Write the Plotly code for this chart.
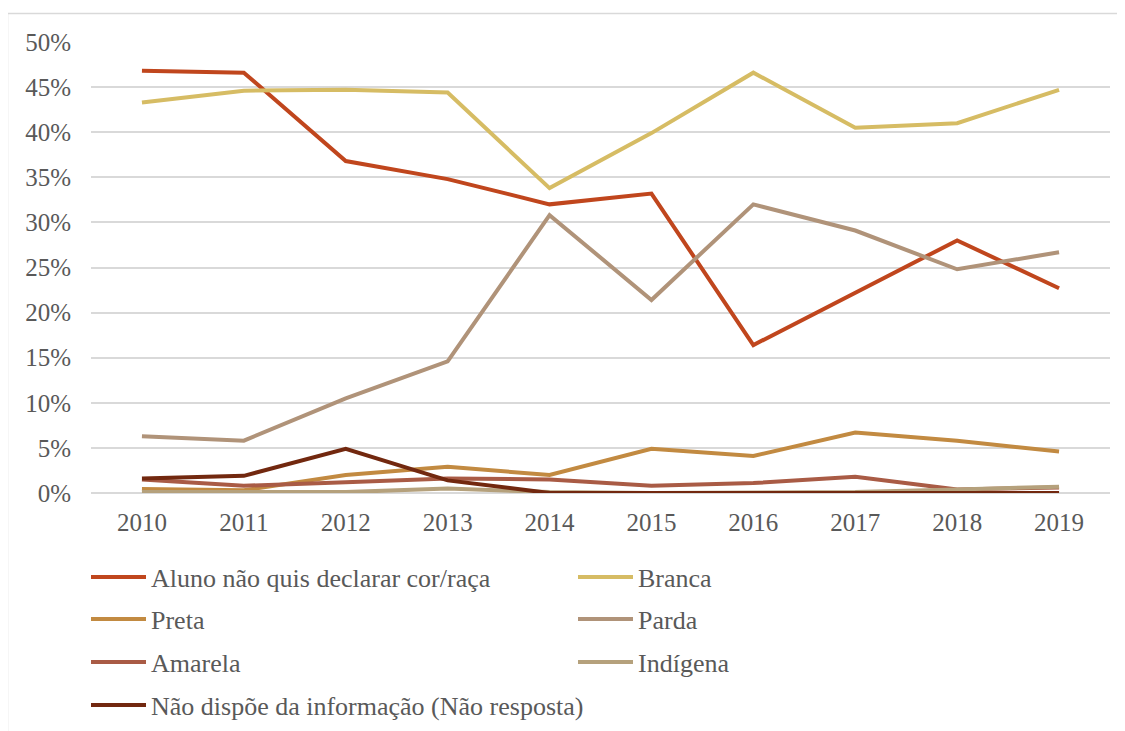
import plotly.graph_objects as go

## anos e percentuais
anos = ["2010", "2011", "2012", "2013", "2014", "2015", "2016", "2017", "2018", "2019"]

aluno_nao_quis = [46.8, 46.6, 36.8, 34.8, 32.0, 33.2, 16.4, 22.2, 28.0, 22.7]
branca = [43.3, 44.6, 44.7, 44.4, 33.8, 39.9, 46.6, 40.5, 41.0, 44.7]
preta = [0.45, 0.3, 2.0, 2.9, 2.0, 4.9, 4.1, 6.7, 5.8, 4.6]
parda = [6.3, 5.8, 10.5, 14.6, 30.8, 21.4, 32.0, 29.1, 24.8, 26.7]
amarela = [1.5, 0.8, 1.2, 1.6, 1.5, 0.8, 1.1, 1.8, 0.4, 0.6]
indigena = [0.1, 0.1, 0.1, 0.5, 0.1, 0.0, 0.0, 0.1, 0.4, 0.7]
nao_dispoe = [1.6, 1.9, 4.9, 1.4, 0.0, 0.0, 0.0, 0.0, 0.0, 0.0]

series = [
    ("Aluno não quis declarar cor/raça", aluno_nao_quis, "#C0461D"),
    ("Branca", branca, "#D6BC64"),
    ("Preta", preta, "#C28A41"),
    ("Parda", parda, "#B09379"),
    ("Amarela", amarela, "#A95B45"),
    ("Indígena", indigena, "#B5A17C"),
    ("Não dispõe da informação (Não resposta)", nao_dispoe, "#72280F"),
]

# uma legenda por linha (duas colunas), para imitar o espacamento do original
legendas = ["legend", "legend", "legend2", "legend2", "legend3", "legend3", "legend4"]
linhas_y = [577, 619, 662, 705]

fig = go.Figure()
for (nome, vals, cor), lg in zip(series, legendas):
    fig.add_trace(go.Scatter(x=anos, y=vals, mode='lines', name=nome, legend=lg,
                             line=dict(color=cor, width=4)))

serif = "Liberation Serif"
cinza = "#595959"
l, t = 91 - 8, 42 - 8
pw, ph = 1019, 452

fig.update_xaxes(type='category', range=[-0.5, 9.5], showgrid=False, showline=False, ticks="",
                 ticklabelstandoff=12, tickfont=dict(family=serif, size=25, color=cinza))
fig.update_yaxes(range=[0, 50], dtick=5, ticksuffix="%", showgrid=True, gridcolor="#D9D9D9",
                 gridwidth=1.5, zeroline=True, zerolinecolor="#D9D9D9", zerolinewidth=1.5,
                 ticklabelstandoff=19, tickfont=dict(family=serif, size=25, color=cinza))

leg_fmt = dict(orientation='h', x=(86 - 91) / pw, xanchor='left', yanchor='middle',
               itemwidth=55, entrywidth=417, entrywidthmode='pixels', bgcolor='rgba(0,0,0,0)',
               font=dict(family=serif, size=26, color=cinza))

fig.update_layout(width=1125, height=731, paper_bgcolor="white", plot_bgcolor="white",
                  margin=dict(l=l, r=1125 - l - pw, t=t, b=731 - t - ph),
                  showlegend=True,
                  legend=dict(leg_fmt, y=(494 - linhas_y[0]) / ph),
                  legend2=dict(leg_fmt, y=(494 - linhas_y[1]) / ph),
                  legend3=dict(leg_fmt, y=(494 - linhas_y[2]) / ph),
                  legend4=dict(leg_fmt, y=(494 - linhas_y[3]) / ph, entrywidth=520),
                  shapes=[dict(type='rect', xref='paper', yref='paper',
                               x0=(7.5 - 91) / pw, x1=(1140 - 91) / pw,
                               y0=(494 - 745) / ph, y1=(494 - 13.5) / ph,
                               line=dict(color="#D9D9D9", width=1.5), layer='below')])

fig.write_html("out.html")
